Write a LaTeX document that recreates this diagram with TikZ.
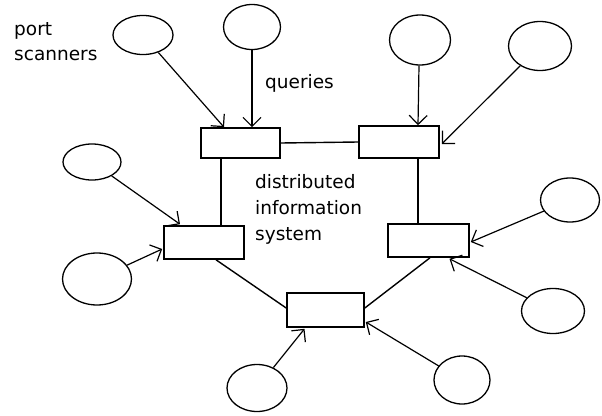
\documentclass[tikz,border=0pt]{standalone}
\usepackage{fontspec}
\setmainfont{DejaVu Sans}
\usetikzlibrary{shapes.geometric,arrows.meta,calc}

\tikzset{
  host/.style={draw, ellipse, line width=1.3pt, inner sep=0pt},
  server/.style={draw, rectangle, line width=1.6pt, inner sep=0pt},
  link/.style={line width=1.4pt},
  probe/.style={line width=1.2pt, -{Straight Barb[length=9pt,width=18pt,line width=1.2pt]}},
  label/.style={font=\fontsize{18.5}{26}\selectfont, inner sep=0pt, align=left}
}

\begin{document}
\begin{tikzpicture}[x=1pt, y=-1pt]
  \useasboundingbox (0,0) rectangle (602,415);

  % servers of the distributed information system
  \node[server, minimum width=79pt, minimum height=30pt] (r1) at (240.5,143) {};
  \node[server, minimum width=80pt, minimum height=32pt] (r2) at (399,142) {};
  \node[server, minimum width=80pt, minimum height=33pt] (r3) at (204,242.5) {};
  \node[server, minimum width=81pt, minimum height=33pt] (r4) at (428.5,240.5) {};
  \node[server, minimum width=77pt, minimum height=34pt] (r5) at (325.5,310) {};

  % scanning hosts
  \node[host, minimum width=60pt, minimum height=39pt] (e1) at (143,35) {};
  \node[host, minimum width=57pt, minimum height=45pt] (e2) at (252,27) {};
  \node[host, minimum width=61pt, minimum height=50pt] (e3) at (420,40) {};
  \node[host, minimum width=63pt, minimum height=49pt] (e4) at (540,46) {};
  \node[host, minimum width=58pt, minimum height=36pt] (e5) at (92,162) {};
  \node[host, minimum width=69pt, minimum height=52pt] (e6) at (97,279) {};
  \node[host, minimum width=59pt, minimum height=44pt] (e7) at (570,200) {};
  \node[host, minimum width=63pt, minimum height=45pt] (e8) at (553,311) {};
  \node[host, minimum width=56pt, minimum height=48pt] (e9) at (462,380) {};
  \node[host, minimum width=60pt, minimum height=47pt] (e10) at (257,388) {};

  % links between servers
  \draw[link] (r1.east) -- (r2.west);
  \draw[link] ($(r1.south)+(-19.5,0)$) -- ($(r3.north)+(17,0)$);
  \draw[link] ($(r2.south)+(19,0)$) -- ($(r4.north)+(-10.5,0)$);
  \draw[link] ($(r3.south)+(12,0)$) -- ($(r5.west)+(0,-2)$);
  \draw[link] ($(r4.south)+(1.5,0)$) -- ($(r5.east)+(0,-2)$);

  % probes from the hosts
  \draw[probe] (e1) -- ($(r1.north)+(-16.5,0)$);
  \draw[probe] (e2.south) -- ($(r1.north)+(11.5,0)$);
  \draw[probe] ($(e3.south)+(-1,0)$) -- ($(r2.north)+(19,0)$);
  \draw[probe] (e4) -- ($(r2.east)+(2,2)$);
  \draw[probe] (e5) -- ($(r3.north)+(-24,-1)$);
  \draw[probe] (e6) -- ($(r3.west)+(-1,6.5)$);
  \draw[probe] (e7) -- ($(r4.east)+(1,1.5)$);
  \draw[probe] (e8) -- ($(r4.south)+(21,1)$);
  \draw[probe] (e9) -- ($(r5.east)+(1,12)$);
  \draw[probe] (e10) -- ($(r5.south)+(-21,1)$);

  % labels
  \node[label, anchor=base west] (lps) at (14,35) {port};
  \node[label, anchor=base west] (lps2) at (14,60) {scanners};
  \node[label, anchor=base west] (lq) at (265,88) {queries};
  \node[label, anchor=base west] (ld1) at (255,188) {distributed};
  \node[label, anchor=base west] (ld2) at (255,214) {information};
  \node[label, anchor=base west] (ld3) at (255,240) {system};
\end{tikzpicture}
\end{document}
